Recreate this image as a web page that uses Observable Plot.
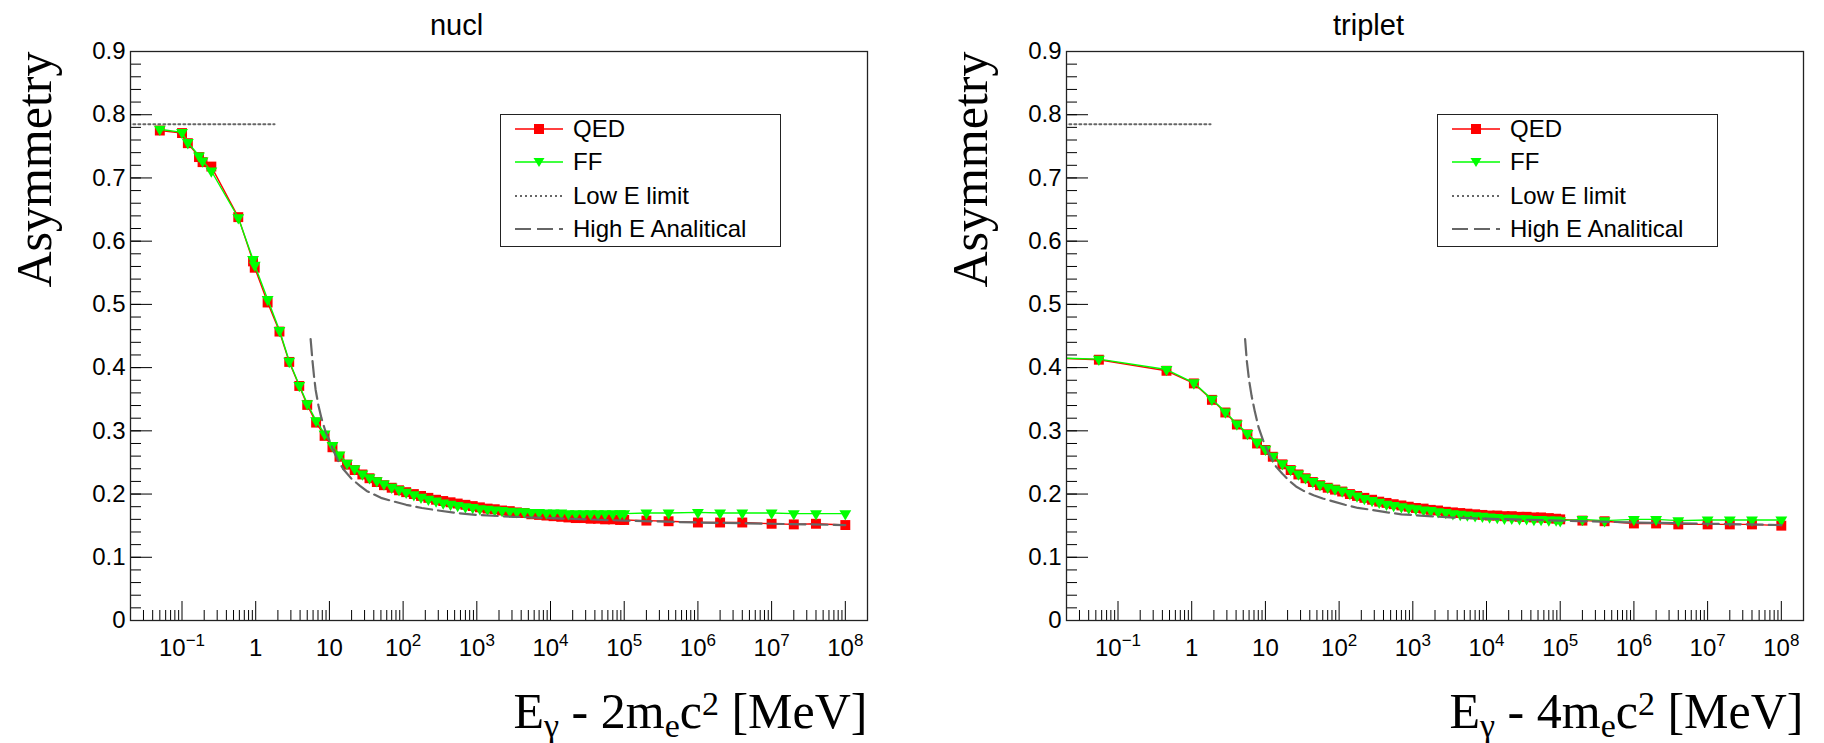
<!DOCTYPE html>
<html>
<head>
<meta charset="utf-8">
<script src="https://cdn.jsdelivr.net/npm/d3@7"></script>
<script src="https://cdn.jsdelivr.net/npm/@observablehq/plot@0.6"></script>
<style>
  html, body { margin: 0; padding: 0; background: #fff; overflow: hidden; }
  #wrap { position: relative; width: 1824px; height: 743px; display: flex; }
  .pad { position: relative; width: 912px; height: 743px; }
  .pad svg { display: block; }
  .legend {
    position: absolute; box-sizing: border-box; width: 281px; height: 133px;
    background: #fff; border: 1.5px solid #222;
    font-family: "Liberation Sans", Arial, sans-serif; font-size: 24px; color: #000;
  }
  .legend .row { position: absolute; left: 14px; height: 30px; display: flex; align-items: center; }
  .legend .row svg { flex: none; margin-right: 10px; }
</style>
</head>
<body>
<div id="wrap"></div>
<script>
// ---- axis description ----
const xDomain = [0.02, 2e8];
const yDomain = [0, 0.9];
const yTicks = [0, 0.1, 0.2, 0.3, 0.4, 0.5, 0.6, 0.7, 0.8, 0.9];
const xMajor = [0.1, 1, 10, 1e2, 1e3, 1e4, 1e5, 1e6, 1e7, 1e8];
const xTickLabels = ["10^{−1}", "1", "10", "10^{2}", "10^{3}", "10^{4}", "10^{5}", "10^{6}", "10^{7}", "10^{8}"];

// ---- nuclear conversion: E_gamma - 2 m_e c^2 [MeV] ----
const nuclE = [0.05, 0.1, 0.12, 0.17, 0.19, 0.25, 0.58, 0.92, 0.97, 1.45, 2.1, 2.85, 3.9, 5.0, 6.6, 8.6, 11, 13.7, 17.3,
  22, 28, 35, 44, 55, 70, 88, 110, 140, 175, 220, 280, 350, 440, 550, 700, 880, 1100, 1400, 1750,
  2200, 2800, 3500, 4400, 5500, 7000, 8800, 11000, 14000, 17500, 22000, 28000, 35000, 44000, 55000, 70000, 88000, 100000,
  2e5, 4e5, 1e6, 2e6, 4e6, 1e7, 2e7, 4e7, 1e8];
const nuclQED = [0.775, 0.771, 0.755, 0.733, 0.725, 0.718, 0.638, 0.568, 0.558, 0.503, 0.457, 0.409, 0.371, 0.341, 0.313, 0.292, 0.274, 0.259, 0.2465,
  0.238, 0.231, 0.225, 0.219, 0.214, 0.210, 0.206, 0.203, 0.200, 0.197, 0.194, 0.191, 0.189, 0.187, 0.185, 0.183, 0.181, 0.179, 0.177, 0.176,
  0.174, 0.173, 0.171, 0.170, 0.168, 0.167, 0.166, 0.165, 0.164, 0.163, 0.162, 0.162, 0.161, 0.161, 0.160, 0.160, 0.159, 0.159,
  0.158, 0.157, 0.155, 0.155, 0.155, 0.153, 0.152, 0.153, 0.151];
const nuclFF = [0.777, 0.772, 0.756, 0.735, 0.727, 0.711, 0.637, 0.571, 0.562, 0.508, 0.459, 0.410, 0.372, 0.343, 0.316, 0.295, 0.277, 0.262, 0.249,
  0.240, 0.232, 0.226, 0.221, 0.216, 0.211, 0.207, 0.203, 0.199, 0.195, 0.192, 0.189, 0.186, 0.184, 0.182, 0.180, 0.179, 0.177, 0.176, 0.175,
  0.174, 0.173, 0.172, 0.172, 0.171, 0.171, 0.170, 0.170, 0.170, 0.169, 0.169, 0.169, 0.169, 0.169, 0.169, 0.169, 0.169, 0.169,
  0.170, 0.170, 0.171, 0.170, 0.170, 0.170, 0.169, 0.169, 0.169];
const nuclHighE = [5.56, 5.9, 6.2, 6.5, 7.1, 7.8, 8.9, 10, 11.2, 13.2, 15.8, 20, 26, 32, 50, 66, 110, 180, 300, 540, 1000, 3162, 1e4, 1e5, 1e6, 1e7, 1e8];
const nuclHighA = [0.445, 0.41, 0.385, 0.365, 0.34, 0.32, 0.298, 0.285, 0.27, 0.252, 0.238, 0.224, 0.213, 0.205, 0.194, 0.19, 0.183, 0.178, 0.174, 0.17, 0.167, 0.164, 0.162, 0.158, 0.155, 0.153, 0.151];

// ---- triplet conversion: E_gamma - 4 m_e c^2 [MeV] ----
const tripE = [0.01, 0.055, 0.455, 1.07, 1.88, 2.86, 4.1, 5.7, 7.7, 10, 12.6, 17,
  22, 28, 35, 44, 55, 70, 88, 110, 140, 175, 220, 280, 350, 440, 550, 700, 880, 1100, 1400, 1750,
  2200, 2800, 3500, 4400, 5500, 7000, 8800, 11000, 14000, 17500, 22000, 28000, 35000, 44000, 55000, 70000, 88000, 100000,
  2e5, 4e5, 1e6, 2e6, 4e6, 1e7, 2e7, 4e7, 1e8];
const tripQED = [0.4155, 0.4125, 0.395, 0.375, 0.349, 0.329, 0.310, 0.2945, 0.280, 0.2697, 0.259, 0.247,
  0.238, 0.231, 0.225, 0.219, 0.214, 0.210, 0.207, 0.204, 0.200, 0.197, 0.194, 0.191, 0.188, 0.186, 0.184, 0.182, 0.180, 0.178, 0.177, 0.175,
  0.174, 0.172, 0.171, 0.170, 0.169, 0.168, 0.167, 0.166, 0.166, 0.165, 0.165, 0.164, 0.164, 0.163, 0.163, 0.162, 0.161, 0.160,
  0.158, 0.157, 0.1535, 0.1535, 0.152, 0.152, 0.152, 0.152, 0.150];
const tripFF = [0.4158, 0.4135, 0.397, 0.376, 0.350, 0.330, 0.311, 0.296, 0.282, 0.271, 0.260, 0.248,
  0.239, 0.232, 0.226, 0.220, 0.215, 0.211, 0.208, 0.205, 0.201, 0.197, 0.193, 0.190, 0.187, 0.184, 0.182, 0.180, 0.178, 0.177, 0.175, 0.174,
  0.172, 0.171, 0.169, 0.168, 0.167, 0.166, 0.165, 0.164, 0.163, 0.162, 0.162, 0.161, 0.161, 0.160, 0.160, 0.159, 0.159, 0.158,
  0.160, 0.158, 0.160, 0.160, 0.158, 0.159, 0.159, 0.159, 0.159];
const tripHighE = [5.3, 5.6, 6.0, 6.5, 7.2, 8.1, 9.3, 10.5, 12, 14, 17, 21, 26, 33, 45, 60, 85, 120, 180, 280, 450, 700, 1260, 3162, 1e4, 1e5, 1e6, 1e7, 1e8];
const tripHighA = [0.445, 0.41, 0.38, 0.355, 0.33, 0.305, 0.285, 0.27, 0.256, 0.243, 0.232, 0.221, 0.212, 0.205, 0.198, 0.193, 0.188, 0.183, 0.178, 0.175, 0.171, 0.168, 0.166, 0.163, 0.161, 0.158, 0.155, 0.153, 0.151];

// ---- low-energy limit (pi/4) ----
const lowLimitE = [0.01, 1.8];
const lowLimitA = 0.785;

const legendLabels = ["QED", "FF", "Low E limit", "High E Analitical"];

// ---- colours and layout ----
const RED = "#ff0000", GREEN = "#00ff00", DOT_GRAY = "#666", DASH_GRAY = "#666";
const W = 912, H = 743, MT = 51, MB = 123;
const SANS = "'Liberation Sans', Arial, sans-serif";
const SERIF = "'Liberation Serif', 'Times New Roman', serif";

// minor ticks: 2..9 x each decade inside the domain; 0.02 steps on y
const xMinor = [];
for (let p = -2; p <= 8; p++) for (let k = 2; k <= 9; k++) {
  const v = k * Math.pow(10, p);
  if (v >= xDomain[0] * 0.999 && v <= xDomain[1] * 1.001) xMinor.push(v);
}
const yMinor = d3.range(0, 46).map(i => i * 0.02).filter(v => v <= 0.9001);

function rows(xs, ys) { return xs.map((e, i) => ({E: e, A: ys[i]})); }

const SVGNS = "http://www.w3.org/2000/svg";
// turn "10^{k}" placeholders and the axis title into tspans
function richify(svg) {
  svg.querySelectorAll("text").forEach(t => {
    const s = t.textContent;
    const m = /^10\^\{(.+)\}$/.exec(s);
    if (m) {
      t.textContent = "";
      const a = document.createElementNS(SVGNS, "tspan");
      a.textContent = "10";
      const b = document.createElementNS(SVGNS, "tspan");
      b.textContent = m[1];
      b.setAttribute("font-size", "17");
      b.setAttribute("dy", "-10");
      t.appendChild(a); t.appendChild(b);
      return;
    }
    if (s.startsWith("@xtitle:")) {
      const k = s.slice(8);
      const parts = [
        {t: "E"}, {t: "γ", sub: true}, {t: " - " + k + "m"}, {t: "e", sub: true}, {t: "c"}, {t: "2", sup: true}, {t: " [MeV]"}
      ];
      t.textContent = "";
      let shift = 0;
      parts.forEach(p => {
        const ts = document.createElementNS(SVGNS, "tspan");
        ts.textContent = p.t;
        const target = p.sub ? 9 : p.sup ? -13 : 0;
        ts.setAttribute("dy", String(target - shift));
        shift = target;
        if (p.sub || p.sup) ts.setAttribute("font-size", "34");
        t.appendChild(ts);
      });
    }
  });
}

function buildPanel(cfg) {
  const plotW = W - cfg.ml - cfg.mr, plotH = H - MT - MB;
  const qed = rows(cfg.E, cfg.qed);
  const ff = rows(cfg.E, cfg.ff);
  const high = rows(cfg.highE, cfg.highA);
  const low = lowLimitE.map(e => ({E: e, A: lowLimitA}));
  const chart = Plot.plot({
    width: W, height: H,
    marginLeft: cfg.ml, marginRight: cfg.mr, marginTop: MT, marginBottom: MB,
    style: {fontFamily: SANS, fontSize: "24px", color: "#000", background: "#fff", overflow: "visible"},
    x: {type: "log", domain: xDomain},
    y: {domain: yDomain},
    marks: [
      // inward ticks along the left and bottom frame edges
      Plot.tickY(yMinor, {y: d => d, insetRight: plotW - 11, stroke: "#000"}),
      Plot.tickY(yTicks, {y: d => d, insetRight: plotW - 22, stroke: "#000"}),
      Plot.tickX(xMinor, {x: d => d, insetTop: plotH - 10, stroke: "#000"}),
      Plot.tickX(xMajor, {x: d => d, insetTop: plotH - 19, stroke: "#000"}),
      Plot.axisY({ticks: yTicks, tickSize: 0, tickPadding: 5, label: null,
        tickFormat: d => d === 0 ? "0" : d.toFixed(1)}),
      Plot.axisX({ticks: xMajor, tickSize: 0, tickPadding: 18, label: null,
        tickFormat: d => xTickLabels[xMajor.indexOf(d)]}),
      // low-energy limit
      Plot.line(low, {x: "E", y: "A", stroke: DOT_GRAY, strokeWidth: 2, strokeDasharray: "2,3", clip: true}),
      // simulated asymmetries
      Plot.line(qed, {x: "E", y: "A", stroke: RED, strokeWidth: 1.4, clip: true}),
      Plot.dot(qed, {x: "E", y: "A", symbol: "square", r: 5.6, fill: RED, stroke: "none", clip: true}),
      Plot.line(ff, {x: "E", y: "A", stroke: GREEN, strokeWidth: 1.4, clip: true}),
      Plot.dot(ff, {x: "E", y: "A", symbol: "triangle", rotate: 180, r: 4.4, fill: GREEN, stroke: "none", clip: true}),
      // high-energy analytical asymmetry
      Plot.line(high, {x: "E", y: "A", stroke: DASH_GRAY, strokeWidth: 2.2, strokeDasharray: "16,6", clip: true}),
      Plot.frame({stroke: "#222", strokeWidth: 1.3}),
      // titles
      Plot.text([cfg.title], {frameAnchor: "top-left", dx: W / 2 - cfg.ml, dy: 34 - MT, textAnchor: "middle",
        lineAnchor: "bottom", fontSize: 29, fontFamily: SANS}),
      Plot.text(["Asymmetry"], {frameAnchor: "top-left", rotate: -90, textAnchor: "end", lineAnchor: "bottom",
        dx: -80, fontSize: 50, fontFamily: SERIF}),
      Plot.text(["@xtitle:" + cfg.mass], {frameAnchor: "bottom-right", textAnchor: "end", lineAnchor: "bottom",
        dy: 107, fontSize: 50, fontFamily: SERIF})
    ]
  });
  richify(chart);
  return chart;
}

function sampleSvg(i) {
  const line = (stroke, dash, w) => `<line x1="0" y1="10" x2="48" y2="10" stroke="${stroke}" stroke-width="${w}" ${dash ? `stroke-dasharray="${dash}"` : ""}/>`;
  if (i === 0) return `<svg width="48" height="20">${line(RED, null, 1.5)}<rect x="19" y="5" width="10" height="10" fill="${RED}"/></svg>`;
  if (i === 1) return `<svg width="48" height="20">${line(GREEN, null, 1.5)}<path d="M18.5,6 L29.5,6 L24,15 Z" fill="${GREEN}"/></svg>`;
  if (i === 2) return `<svg width="48" height="20">${line(DOT_GRAY, "2,3", 2)}</svg>`;
  return `<svg width="48" height="20">${line(DASH_GRAY, "16,6", 2.2)}</svg>`;
}

function buildLegend(left, top) {
  const div = document.createElement("div");
  div.className = "legend";
  div.style.left = left + "px";
  div.style.top = top + "px";
  legendLabels.forEach((lab, i) => {
    const row = document.createElement("div");
    row.className = "row";
    row.style.top = (14 + i * 33.3 - 15) + "px";
    row.innerHTML = sampleSvg(i) + `<span>${lab}</span>`;
    div.appendChild(row);
  });
  return div;
}

const panels = [
  {title: "nucl", mass: "2", ml: 130, mr: 45, E: nuclE, qed: nuclQED, ff: nuclFF, highE: nuclHighE, highA: nuclHighA, legendLeft: 500},
  {title: "triplet", mass: "4", ml: 154, mr: 21, E: tripE, qed: tripQED, ff: tripFF, highE: tripHighE, highA: tripHighA, legendLeft: 525}
];

const wrap = document.getElementById("wrap");
panels.forEach(cfg => {
  const pad = document.createElement("div");
  pad.className = "pad";
  pad.appendChild(buildPanel(cfg));
  pad.appendChild(buildLegend(cfg.legendLeft, 114));
  wrap.appendChild(pad);
});
</script>
</body>
</html>
